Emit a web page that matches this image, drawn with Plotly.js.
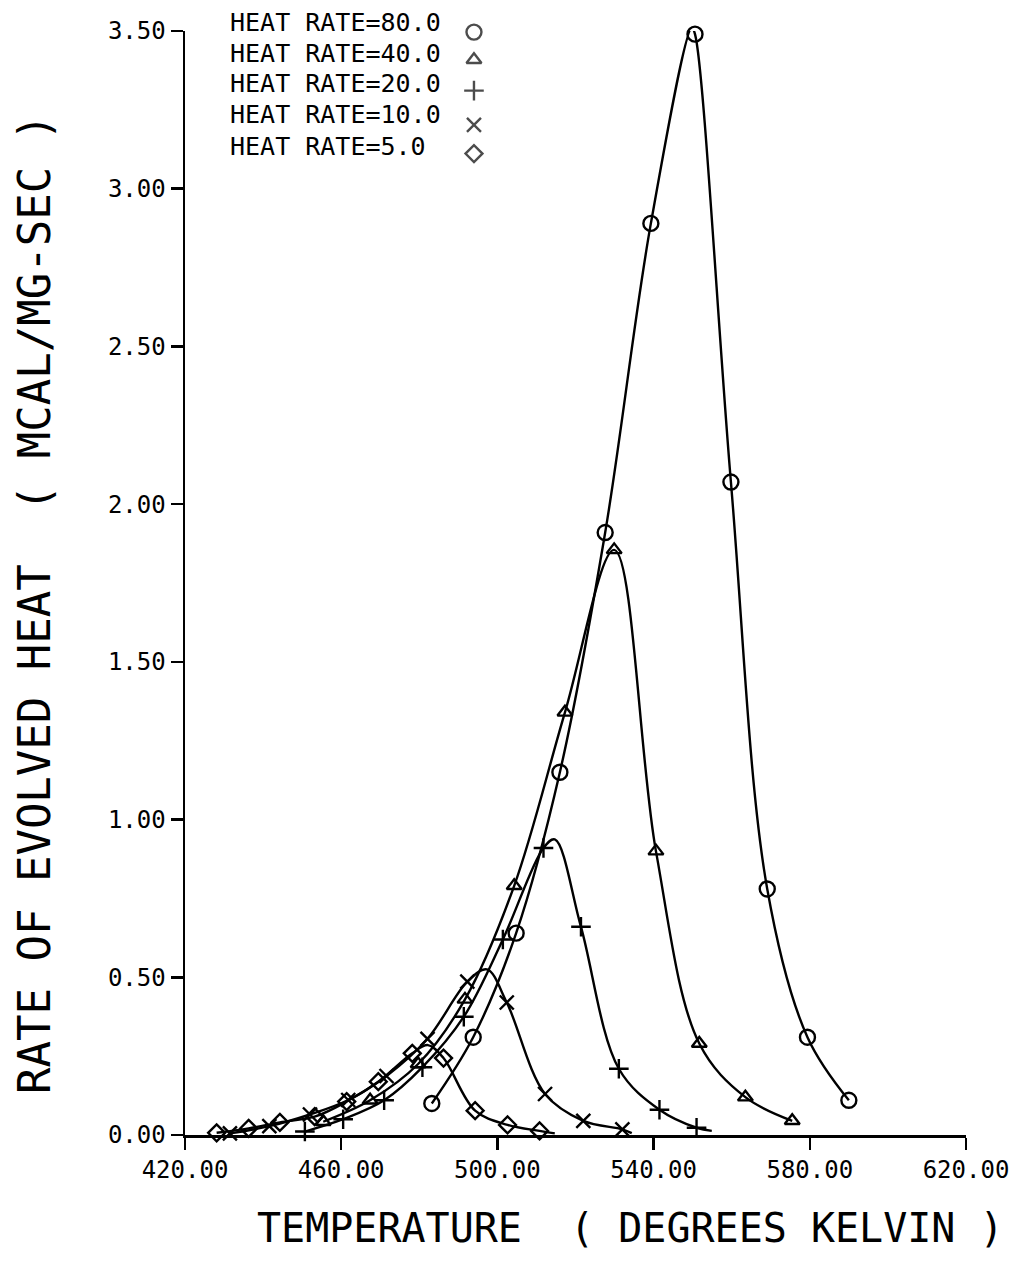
<!DOCTYPE html>
<html>
<head>
<meta charset="utf-8">
<script src="https://cdn.plot.ly/plotly-3.0.1.min.js"></script>
<style>
  html, body { margin: 0; padding: 0; background: #ffffff; }
  #chart { width: 1019px; height: 1261px; }
</style>
</head>
<body>
<div id="chart"></div>
<script>
// ---- data (temperature in K, rate in mcal/mg-sec) ----
const heatRates = [80.0, 40.0, 20.0, 10.0, 5.0];

const hr80_T = [483.2, 493.8, 504.8, 516.0, 527.6, 539.3, 550.6, 559.8, 569.1, 579.4, 590.0];
const hr80_Q = [0.10, 0.31, 0.64, 1.15, 1.91, 2.89, 3.49, 2.07, 0.78, 0.31, 0.11];

const hr40_T = [455.4, 467.4, 479.7, 491.7, 504.3, 517.3, 529.9, 540.6, 551.7, 563.5, 575.5];
const hr40_Q = [0.042, 0.11, 0.225, 0.43, 0.79, 1.34, 1.855, 0.90, 0.29, 0.12, 0.045];

const hr20_T = [450.7, 460.5, 471.0, 480.8, 491.4, 501.4, 511.8, 521.4, 531.1, 541.5, 551.0];
const hr20_Q = [0.011, 0.05, 0.11, 0.215, 0.375, 0.62, 0.91, 0.66, 0.21, 0.08, 0.023];

const hr10_T = [431.5, 441.6, 452.0, 461.8, 471.6, 482.1, 492.3, 502.4, 512.2, 522.0, 532.0];
const hr10_Q = [0.005, 0.028, 0.065, 0.111, 0.187, 0.305, 0.486, 0.42, 0.13, 0.045, 0.018];

const hr5_T = [428.1, 436.3, 444.3, 453.2, 461.4, 469.5, 478.2, 486.2, 494.3, 502.6, 510.8];
const hr5_Q = [0.007, 0.021, 0.04, 0.058, 0.106, 0.169, 0.259, 0.244, 0.077, 0.032, 0.013];

// extra points (peaks / line ends without a symbol)
const hr80_curveT = [549.8];
const hr80_curveQ = [3.51];
const hr40_curveT = [];
const hr40_curveQ = [];
const hr20_curveT = [514.7, 554.9];
const hr20_curveQ = [0.937, 0.013];
const hr10_curveT = [497.3, 534.4];
const hr10_curveQ = [0.525, 0.006];
const hr5_curveT = [482.2, 514.7];
const hr5_curveQ = [0.285, 0.005];

const xTickVals = [420, 460, 500, 540, 580, 620];
const yTickVals = [0, 0.5, 1.0, 1.5, 2.0, 2.5, 3.0, 3.5];

// ---- styling ----
const FONT = '"DejaVu Sans Mono", "Liberation Mono", monospace';
const symbols = ['circle-open', 'triangle-up-open', 'cross-thin-open', 'x-thin-open', 'diamond-open'];
const sizes = [15, 13, 14, 14, 13];

const series = [
  [hr80_T, hr80_Q, hr80_curveT, hr80_curveQ],
  [hr40_T, hr40_Q, hr40_curveT, hr40_curveQ],
  [hr20_T, hr20_Q, hr20_curveT, hr20_curveQ],
  [hr10_T, hr10_Q, hr10_curveT, hr10_curveQ],
  [hr5_T, hr5_Q, hr5_curveT, hr5_curveQ]
];

const traces = [];
series.forEach(function (s, i) {
  const pts = [];
  s[0].forEach(function (t, k) { pts.push([t, s[1][k]]); });
  s[2].forEach(function (t, k) { pts.push([t, s[3][k]]); });
  pts.sort(function (a, b) { return a[0] - b[0]; });
  traces.push({
    x: pts.map(function (p) { return p[0]; }),
    y: pts.map(function (p) { return p[1]; }),
    mode: 'lines',
    line: { color: '#000', width: 2.4, shape: 'spline', smoothing: 1.0 },
    hoverinfo: 'skip',
    showlegend: false
  });
  traces.push({
    x: s[0], y: s[1],
    mode: 'markers',
    name: 'HEAT RATE=' + heatRates[i].toFixed(1),
    cliponaxis: false,
    marker: { symbol: symbols[i], size: sizes[i], color: '#000', line: { color: '#000', width: 2.4 } },
    showlegend: false
  });
});

// legend drawn as in the reference: label text, then the symbol to its right
const legendRowY = [1.008, 0.980, 0.952, 0.924, 0.895];
const legendSymY = [0.999, 0.974, 0.946, 0.915, 0.889];
const annotations = [];
heatRates.forEach(function (r, i) {
  annotations.push({
    text: 'HEAT RATE=' + r.toFixed(1),
    xref: 'paper', yref: 'paper', x: 0.055, y: legendRowY[i],
    xanchor: 'left', yanchor: 'middle', showarrow: false,
    font: { family: FONT, size: 25, color: '#000' }
  });
});
traces.push({
  x: heatRates.map(function () { return 0.37; }),
  y: legendSymY,
  xaxis: 'x2', yaxis: 'y2',
  mode: 'markers',
  cliponaxis: false,
  marker: { symbol: symbols, size: sizes, color: '#000', line: { color: '#000', width: 2.4 } },
  hoverinfo: 'skip', showlegend: false
});

annotations.push({
  text: 'TEMPERATURE  ( DEGREES KELVIN )',
  xref: 'paper', yref: 'paper', x: 0.571, y: -0.084,
  xanchor: 'center', yanchor: 'middle', showarrow: false,
  font: { family: FONT, size: 40, color: '#000' }
});
annotations.push({
  text: 'RATE OF EVOLVED HEAT  ( MCAL/MG-SEC )',
  xref: 'paper', yref: 'paper', x: -0.192, y: 0.481,
  xanchor: 'center', yanchor: 'middle', showarrow: false, textangle: -90,
  font: { family: FONT, size: 44, color: '#000' }
});

const layout = {
  width: 1019, height: 1261,
  margin: { l: 185, r: 53, t: 31, b: 126 },
  paper_bgcolor: '#ffffff', plot_bgcolor: 'rgba(0,0,0,0)',
  showlegend: false,
  font: { family: FONT, color: '#000' },
  xaxis: {
    range: [420, 620], tickvals: xTickVals, tickformat: '.2f',
    showgrid: false, zeroline: false, showline: true, linecolor: '#000', linewidth: 2.5,
    ticks: 'outside', ticklen: 12, tickwidth: 2.5, tickcolor: '#000',
    tickfont: { family: FONT, size: 24, color: '#000' }
  },
  yaxis: {
    range: [0, 3.5], tickvals: yTickVals, tickformat: '.2f',
    showgrid: false, zeroline: false, showline: true, linecolor: '#000', linewidth: 2.5,
    ticks: 'outside', ticklen: 12, tickwidth: 2.5, tickcolor: '#000',
    tickfont: { family: FONT, size: 24, color: '#000' }
  },
  xaxis2: { overlaying: 'x', range: [0, 1], anchor: 'y2', visible: false, fixedrange: true },
  yaxis2: { overlaying: 'y', range: [0, 1], anchor: 'x2', visible: false, fixedrange: true },
  annotations: annotations
};

Plotly.newPlot('chart', traces, layout, { displayModeBar: false, staticPlot: true });
</script>
</body>
</html>
